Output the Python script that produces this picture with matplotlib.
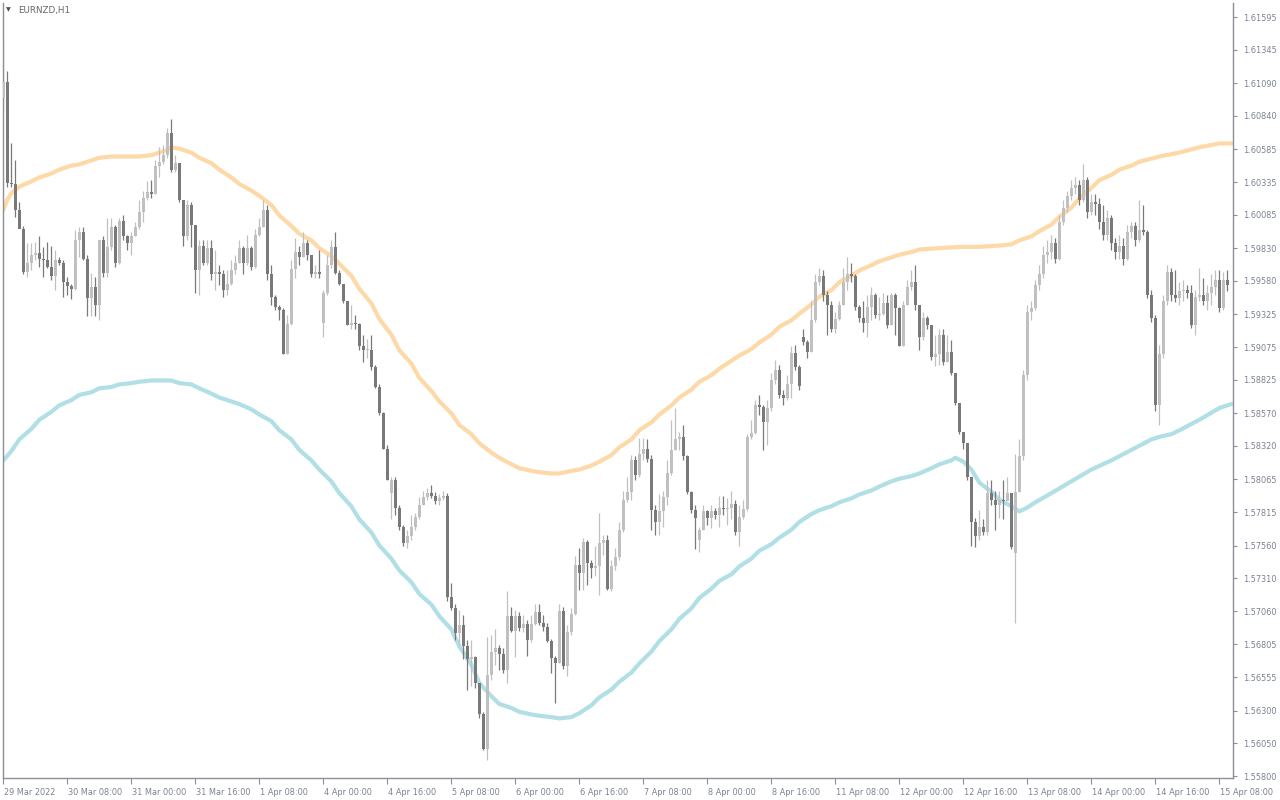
import matplotlib
matplotlib.use("Agg")
import matplotlib.pyplot as plt
import matplotlib.transforms as mtransforms

# EURNZD H1 candles, 29 Mar 16:00 .. 15 Apr 10:00
closes = [
    1.6110, 1.6033, 1.6032, 1.6012, 1.5998, 1.5965, 1.5972, 1.5978, 1.5979, 1.5975,
    1.5974, 1.5969, 1.5962, 1.5974, 1.5972, 1.5957, 1.5954, 1.5952, 1.5989, 1.5995,
    1.5975, 1.5945, 1.5953, 1.5940, 1.5989, 1.5964, 1.5984, 1.5999, 1.5972, 1.6004,
    1.5992, 1.5987, 1.5992, 1.5999, 1.6011, 1.6021, 1.6026, 1.6024, 1.6046, 1.6049,
    1.6054, 1.6071, 1.6043, 1.6048, 1.6020, 1.5992, 1.6016, 1.6001, 1.5966, 1.5985,
    1.5972, 1.5983, 1.5963, 1.5965, 1.5963, 1.5951, 1.5956, 1.5966, 1.5972, 1.5983,
    1.5972, 1.5983, 1.5969, 1.5993, 1.5999, 1.6012, 1.5963, 1.5946, 1.5938, 1.5936,
    1.5902, 1.5925, 1.5967, 1.5980, 1.5976, 1.5987, 1.5978, 1.5963, 1.5965, 1.5963,
    1.5949, 1.5970, 1.5984, 1.5964, 1.5956, 1.5943, 1.5924, 1.5926, 1.5925, 1.5908,
    1.5905, 1.5905, 1.5892, 1.5877, 1.5857, 1.5830, 1.5806, 1.5806, 1.5785, 1.5770,
    1.5758, 1.5763, 1.5770, 1.5778, 1.5787, 1.5793, 1.5796, 1.5794, 1.5790, 1.5792,
    1.5794, 1.5717, 1.5708, 1.5689, 1.5695, 1.5679, 1.5669, 1.5671, 1.5651, 1.5627,
    1.5601, 1.5657, 1.5675, 1.5678, 1.5673, 1.5661, 1.5702, 1.5691, 1.5702, 1.5693,
    1.5696, 1.5684, 1.5696, 1.5705, 1.5697, 1.5694, 1.5683, 1.5670, 1.5666, 1.5706,
    1.5664, 1.5690, 1.5704, 1.5741, 1.5735, 1.5759, 1.5743, 1.5739, 1.5740, 1.5758,
    1.5760, 1.5723, 1.5740, 1.5747, 1.5768, 1.5791, 1.5797, 1.5821, 1.5810, 1.5826,
    1.5830, 1.5822, 1.5783, 1.5774, 1.5782, 1.5793, 1.5811, 1.5829, 1.5837, 1.5839,
    1.5824, 1.5797, 1.5783, 1.5777, 1.5768, 1.5782, 1.5777, 1.5782, 1.5779, 1.5785,
    1.5784, 1.5785, 1.5788, 1.5766, 1.5778, 1.5784, 1.5839, 1.5842, 1.5863, 1.5862,
    1.5850, 1.5861, 1.5882, 1.5890, 1.5871, 1.5869, 1.5879, 1.5903, 1.5892, 1.5878,
    1.5911, 1.5904, 1.5928, 1.5957, 1.5962, 1.5947, 1.5940, 1.5921, 1.5929, 1.5940,
    1.5957, 1.5963, 1.5962, 1.5938, 1.5930, 1.5926, 1.5938, 1.5947, 1.5932, 1.5933,
    1.5941, 1.5924, 1.5947, 1.5937, 1.5908, 1.5940, 1.5953, 1.5957, 1.5940, 1.5915,
    1.5930, 1.5924, 1.5900, 1.5902, 1.5917, 1.5896, 1.5904, 1.5888, 1.5865, 1.5843,
    1.5834, 1.5808, 1.5774, 1.5763, 1.5770, 1.5766, 1.5796, 1.5791, 1.5787, 1.5791,
    1.5790, 1.5796, 1.5755, 1.5797, 1.5824, 1.5886, 1.5934, 1.5937, 1.5955, 1.5963,
    1.5978, 1.5980, 1.5987, 1.5975, 1.6003, 1.6014, 1.6023, 1.6029, 1.6031, 1.6020,
    1.6035, 1.6011, 1.6018, 1.6017, 1.6003, 1.5993, 1.6006, 1.5987, 1.5980, 1.5985,
    1.5975, 1.5995, 1.6000, 1.5989, 1.5997, 1.5995, 1.5947, 1.5930, 1.5863, 1.5902,
    1.5943, 1.5965, 1.5947, 1.5945, 1.5950, 1.5951, 1.5949, 1.5924, 1.5946, 1.5947,
    1.5943, 1.5949, 1.5953, 1.5959, 1.5937, 1.5959, 1.5955,
]
highs = [
    1.6142, 1.6118, 1.6063, 1.6050, 1.6018, 1.6000, 1.5987, 1.5987, 1.5988, 1.5992,
    1.5984, 1.5988, 1.5985, 1.5982, 1.5976, 1.5974, 1.5961, 1.5956, 1.5997, 1.5999,
    1.5999, 1.5978, 1.5964, 1.5961, 1.5989, 1.5992, 1.6006, 1.6006, 1.6001, 1.6006,
    1.6008, 1.5993, 1.5995, 1.6003, 1.6020, 1.6027, 1.6034, 1.6035, 1.6050, 1.6060,
    1.6062, 1.6075, 1.6082, 1.6054, 1.6048, 1.6020, 1.6020, 1.6018, 1.6001, 1.5989,
    1.5989, 1.5989, 1.5989, 1.5982, 1.5970, 1.5966, 1.5966, 1.5974, 1.5978, 1.5989,
    1.5985, 1.5993, 1.5985, 1.5998, 1.6006, 1.6020, 1.6016, 1.5970, 1.5947, 1.5940,
    1.5937, 1.5932, 1.5974, 1.5991, 1.5985, 1.5995, 1.5989, 1.5978, 1.5970, 1.5982,
    1.5951, 1.5978, 1.5989, 1.5995, 1.5966, 1.5956, 1.5943, 1.5940, 1.5932, 1.5926,
    1.5917, 1.5914, 1.5917, 1.5894, 1.5879, 1.5858, 1.5833, 1.5808, 1.5808, 1.5787,
    1.5772, 1.5768, 1.5779, 1.5781, 1.5793, 1.5798, 1.5800, 1.5802, 1.5797, 1.5795,
    1.5798, 1.5796, 1.5727, 1.5711, 1.5707, 1.5703, 1.5684, 1.5684, 1.5672, 1.5651,
    1.5629, 1.5686, 1.5688, 1.5692, 1.5680, 1.5678, 1.5721, 1.5709, 1.5707, 1.5705,
    1.5703, 1.5699, 1.5703, 1.5711, 1.5711, 1.5703, 1.5697, 1.5685, 1.5672, 1.5711,
    1.5709, 1.5695, 1.5708, 1.5748, 1.5754, 1.5762, 1.5760, 1.5745, 1.5756, 1.5781,
    1.5764, 1.5764, 1.5745, 1.5754, 1.5774, 1.5798, 1.5808, 1.5825, 1.5824, 1.5838,
    1.5838, 1.5837, 1.5825, 1.5787, 1.5795, 1.5798, 1.5821, 1.5852, 1.5861, 1.5843,
    1.5848, 1.5825, 1.5798, 1.5787, 1.5770, 1.5787, 1.5783, 1.5787, 1.5785, 1.5794,
    1.5794, 1.5792, 1.5798, 1.5791, 1.5787, 1.5791, 1.5841, 1.5852, 1.5867, 1.5871,
    1.5863, 1.5867, 1.5888, 1.5898, 1.5894, 1.5875, 1.5886, 1.5908, 1.5909, 1.5894,
    1.5921, 1.5913, 1.5943, 1.5963, 1.5968, 1.5966, 1.5950, 1.5943, 1.5934, 1.5943,
    1.5968, 1.5976, 1.5972, 1.5963, 1.5940, 1.5943, 1.5947, 1.5953, 1.5949, 1.5946,
    1.5949, 1.5947, 1.5949, 1.5949, 1.5938, 1.5943, 1.5959, 1.5966, 1.5970, 1.5940,
    1.5934, 1.5931, 1.5924, 1.5917, 1.5921, 1.5921, 1.5917, 1.5913, 1.5888, 1.5865,
    1.5843, 1.5834, 1.5808, 1.5777, 1.5783, 1.5776, 1.5806, 1.5806, 1.5798, 1.5798,
    1.5806, 1.5808, 1.5796, 1.5826, 1.5837, 1.5890, 1.5940, 1.5943, 1.5959, 1.5970,
    1.5985, 1.5989, 1.5993, 1.5991, 1.6008, 1.6020, 1.6027, 1.6035, 1.6037, 1.6035,
    1.6047, 1.6037, 1.6024, 1.6024, 1.6021, 1.6016, 1.6012, 1.6008, 1.5991, 1.5993,
    1.5991, 1.6001, 1.6003, 1.6003, 1.6020, 1.6016, 1.5997, 1.5951, 1.5932, 1.5909,
    1.5947, 1.5970, 1.5968, 1.5966, 1.5957, 1.5959, 1.5955, 1.5955, 1.5951, 1.5968,
    1.5960, 1.5955, 1.5963, 1.5966, 1.5966, 1.5965, 1.5966,
]
lows = [
    1.6087, 1.6030, 1.6030, 1.6007, 1.5999, 1.5963, 1.5961, 1.5966, 1.5974, 1.5969,
    1.5961, 1.5968, 1.5959, 1.5951, 1.5970, 1.5946, 1.5947, 1.5944, 1.5951, 1.5976,
    1.5974, 1.5931, 1.5931, 1.5931, 1.5928, 1.5961, 1.5961, 1.5982, 1.5969, 1.5971,
    1.5989, 1.5982, 1.5978, 1.5992, 1.5998, 1.6003, 1.6020, 1.6021, 1.6024, 1.6037,
    1.6047, 1.6052, 1.6041, 1.6041, 1.6018, 1.5985, 1.5989, 1.5984, 1.5949, 1.5947,
    1.5970, 1.5970, 1.5959, 1.5951, 1.5955, 1.5946, 1.5947, 1.5955, 1.5963, 1.5972,
    1.5963, 1.5970, 1.5966, 1.5968, 1.5992, 1.5999, 1.5959, 1.5940, 1.5936, 1.5928,
    1.5902, 1.5902, 1.5924, 1.5960, 1.5970, 1.5976, 1.5974, 1.5961, 1.5960, 1.5960,
    1.5915, 1.5947, 1.5968, 1.5963, 1.5955, 1.5941, 1.5924, 1.5921, 1.5921, 1.5905,
    1.5896, 1.5899, 1.5890, 1.5876, 1.5856, 1.5830, 1.5806, 1.5776, 1.5779, 1.5768,
    1.5756, 1.5754, 1.5760, 1.5768, 1.5776, 1.5787, 1.5791, 1.5792, 1.5788, 1.5787,
    1.5791, 1.5714, 1.5707, 1.5684, 1.5680, 1.5669, 1.5646, 1.5649, 1.5647, 1.5624,
    1.5600, 1.5592, 1.5653, 1.5665, 1.5661, 1.5659, 1.5651, 1.5690, 1.5671, 1.5691,
    1.5690, 1.5672, 1.5682, 1.5695, 1.5695, 1.5691, 1.5682, 1.5659, 1.5636, 1.5666,
    1.5662, 1.5656, 1.5688, 1.5703, 1.5722, 1.5722, 1.5726, 1.5731, 1.5733, 1.5718,
    1.5749, 1.5722, 1.5721, 1.5737, 1.5745, 1.5766, 1.5789, 1.5791, 1.5806, 1.5808,
    1.5821, 1.5820, 1.5768, 1.5764, 1.5764, 1.5770, 1.5787, 1.5810, 1.5829, 1.5829,
    1.5821, 1.5795, 1.5781, 1.5753, 1.5751, 1.5768, 1.5772, 1.5769, 1.5776, 1.5770,
    1.5779, 1.5772, 1.5776, 1.5764, 1.5756, 1.5776, 1.5782, 1.5837, 1.5841, 1.5856,
    1.5829, 1.5833, 1.5859, 1.5879, 1.5869, 1.5863, 1.5867, 1.5869, 1.5890, 1.5875,
    1.5909, 1.5899, 1.5904, 1.5927, 1.5955, 1.5943, 1.5917, 1.5919, 1.5918, 1.5928,
    1.5940, 1.5951, 1.5957, 1.5936, 1.5927, 1.5919, 1.5915, 1.5928, 1.5930, 1.5928,
    1.5932, 1.5922, 1.5924, 1.5917, 1.5908, 1.5908, 1.5940, 1.5951, 1.5936, 1.5905,
    1.5913, 1.5921, 1.5898, 1.5893, 1.5894, 1.5894, 1.5896, 1.5886, 1.5863, 1.5841,
    1.5830, 1.5806, 1.5756, 1.5755, 1.5760, 1.5764, 1.5764, 1.5787, 1.5768, 1.5777,
    1.5776, 1.5791, 1.5753, 1.5697, 1.5797, 1.5821, 1.5882, 1.5928, 1.5936, 1.5951,
    1.5960, 1.5972, 1.5975, 1.5972, 1.5974, 1.6001, 1.6011, 1.6020, 1.6024, 1.6016,
    1.6018, 1.6006, 1.6008, 1.6008, 1.5998, 1.5989, 1.5989, 1.5982, 1.5975, 1.5975,
    1.5970, 1.5974, 1.5991, 1.5985, 1.5988, 1.5993, 1.5945, 1.5927, 1.5859, 1.5848,
    1.5899, 1.5940, 1.5943, 1.5942, 1.5940, 1.5943, 1.5945, 1.5922, 1.5917, 1.5943,
    1.5940, 1.5936, 1.5940, 1.5947, 1.5934, 1.5936, 1.5950,
]
# each bar opens at the previous close, except where the chart shows a gap
first_open = 1.6098
gap_opens = {80: 1.5926, 97: 1.5796, 174: 1.5760, 200: 1.5915, 253: 1.5750}

# the two smooth indicator lines (bar index, price)
upper_idx = [0, 1, 2, 4, 7, 9, 12, 14, 17, 19, 22, 24, 27, 29, 34, 37, 39, 41, 42, 44,
             47, 49, 52, 54, 57, 59, 62, 64, 67, 69, 72, 74, 77, 79, 82, 84, 87, 89, 92, 94,
             97, 99, 102, 104, 107, 109, 112, 114, 117, 119, 122, 124, 127, 129, 132, 134,
             137, 139, 142, 144, 147, 149, 152, 154, 157, 159, 162, 164, 167, 169, 172, 174,
             177, 179, 182, 184, 187, 189, 192, 194, 197, 199, 202, 204, 207, 209, 212, 214,
             217, 219, 222, 224, 227, 229, 234, 239, 244, 249, 252, 254, 257, 259, 262, 264,
             267, 269, 272, 274, 277, 279, 282, 284, 289, 294, 299, 304, 307]
upper_val = [1.6012, 1.6020, 1.6025, 1.6030, 1.6034, 1.6037, 1.6040, 1.6043, 1.6046, 1.6047,
             1.6050, 1.6052, 1.6053, 1.6053, 1.6053, 1.6054, 1.6056, 1.6058, 1.6060, 1.6059,
             1.6056, 1.6052, 1.6048, 1.6043, 1.6037, 1.6032, 1.6027, 1.6023, 1.6016, 1.6008,
             1.6000, 1.5994, 1.5989, 1.5983, 1.5977, 1.5971, 1.5962, 1.5952, 1.5941, 1.5929,
             1.5917, 1.5905, 1.5895, 1.5884, 1.5874, 1.5866, 1.5857, 1.5848, 1.5841, 1.5834,
             1.5827, 1.5823, 1.5818, 1.5815, 1.5813, 1.5812, 1.5811, 1.5811, 1.5813, 1.5814,
             1.5817, 1.5820, 1.5825, 1.5831, 1.5837, 1.5844, 1.5850, 1.5856, 1.5863, 1.5869,
             1.5875, 1.5881, 1.5886, 1.5891, 1.5897, 1.5901, 1.5906, 1.5911, 1.5917, 1.5923,
             1.5928, 1.5933, 1.5940, 1.5946, 1.5951, 1.5957, 1.5962, 1.5966, 1.5970, 1.5973,
             1.5976, 1.5978, 1.5980, 1.5982, 1.5983, 1.5984, 1.5984, 1.5985, 1.5986, 1.5989,
             1.5992, 1.5996, 1.6001, 1.6007, 1.6014, 1.6021, 1.6029, 1.6035, 1.6039, 1.6043,
             1.6046, 1.6049, 1.6053, 1.6056, 1.6060, 1.6063, 1.6063]
lower_idx = [0, 2, 4, 7, 9, 12, 14, 17, 19, 22, 24, 27, 29, 32, 34, 37, 39, 42, 44, 47,
             49, 52, 54, 57, 59, 62, 64, 67, 69, 72, 74, 77, 79, 82, 84, 87, 89, 92, 94, 97,
             99, 102, 104, 107, 109, 112, 114, 117, 119, 122, 124, 127, 129, 132, 134, 137,
             139, 142, 144, 147, 149, 152, 154, 157, 159, 162, 164, 167, 169, 172, 174, 177,
             179, 182, 184, 187, 189, 192, 194, 197, 199, 202, 204, 207, 209, 212, 214, 217,
             219, 222, 224, 227, 229, 232, 234, 237, 238, 240, 242, 244, 247, 249, 252, 254,
             256, 258, 262, 267, 272, 277, 282, 287, 289, 292, 294, 299, 304, 307]
lower_val = [1.5821, 1.5828, 1.5837, 1.5845, 1.5852, 1.5858, 1.5863, 1.5867, 1.5871, 1.5873,
             1.5876, 1.5877, 1.5879, 1.5880, 1.5881, 1.5882, 1.5882, 1.5882, 1.5880, 1.5879,
             1.5876, 1.5872, 1.5869, 1.5866, 1.5864, 1.5860, 1.5856, 1.5851, 1.5844, 1.5837,
             1.5829, 1.5821, 1.5814, 1.5805, 1.5796, 1.5786, 1.5776, 1.5766, 1.5756, 1.5746,
             1.5737, 1.5728, 1.5719, 1.5711, 1.5702, 1.5692, 1.5679, 1.5665, 1.5651, 1.5641,
             1.5635, 1.5632, 1.5629, 1.5627, 1.5626, 1.5625, 1.5624, 1.5625, 1.5628, 1.5634,
             1.5640, 1.5646, 1.5652, 1.5659, 1.5666, 1.5675, 1.5683, 1.5692, 1.5700, 1.5708,
             1.5716, 1.5723, 1.5729, 1.5734, 1.5740, 1.5746, 1.5752, 1.5757, 1.5762, 1.5768,
             1.5774, 1.5780, 1.5783, 1.5786, 1.5789, 1.5792, 1.5795, 1.5798, 1.5801, 1.5805,
             1.5807, 1.5809, 1.5811, 1.5815, 1.5818, 1.5821, 1.5823, 1.5820, 1.5814, 1.5804,
             1.5797, 1.5791, 1.5786, 1.5782, 1.5785, 1.5789, 1.5796, 1.5805, 1.5814, 1.5821,
             1.5829, 1.5837, 1.5839, 1.5841, 1.5844, 1.5852, 1.5861, 1.5864]

price_ticks = [1.61595, 1.61345, 1.61090, 1.60840, 1.60585, 1.60335, 1.60085, 1.59830,
               1.59580, 1.59325, 1.59075, 1.58825, 1.58570, 1.58320, 1.58065, 1.57815,
               1.57560, 1.57310, 1.57060, 1.56805, 1.56555, 1.56300, 1.56050, 1.55800]
time_labels = ["29 Mar 2022", "30 Mar 08:00", "31 Mar 00:00", "31 Mar 16:00", "1 Apr 08:00",
               "4 Apr 00:00", "4 Apr 16:00", "5 Apr 08:00", "6 Apr 00:00", "6 Apr 16:00",
               "7 Apr 08:00", "8 Apr 00:00", "8 Apr 16:00", "11 Apr 08:00", "12 Apr 00:00",
               "12 Apr 16:00", "13 Apr 08:00", "14 Apr 00:00", "14 Apr 16:00", "15 Apr 08:00"]
label_step = 16  # one time label every 16 bars

n = len(closes)
opens = [first_open] + closes[:-1]
for k, v in gap_opens.items():
    opens[k] = v

bull_col = "#c0c0c0"
bear_col = "#797979"
axis_col = "#8e8e98"
text_col = "#7a8290"

fig = plt.figure(figsize=(12.8, 8), dpi=100)
ax = fig.add_axes([2.5 / 1280, 22 / 800, 1230.5 / 1280, 775 / 800])

ax.plot(upper_idx, upper_val, color="#fed9a8", lw=3.0, zorder=1,
        solid_capstyle="round", solid_joinstyle="round")
ax.plot(lower_idx, lower_val, color="#b0dfe5", lw=3.0, zorder=1,
        solid_capstyle="round", solid_joinstyle="round")

xs = list(range(n))
cols = [bull_col if c >= o else bear_col for o, c in zip(opens, closes)]
ax.vlines(xs, lows, highs, colors=cols, lw=0.9, zorder=2)
bottoms = [min(o, c) for o, c in zip(opens, closes)]
heights = [max(abs(c - o), 0.00007) for o, c in zip(opens, closes)]
ax.bar(xs, heights, bottom=bottoms, width=0.75, color=cols, linewidth=0, zorder=3)

ax.set_xlim(-0.2, 307.4)
ax.set_ylim(1.55785, 1.61702)

ax.yaxis.tick_right()
ax.set_yticks(price_ticks)
ax.set_yticklabels([f"{v:.5f}" for v in price_ticks])
ax.tick_params(axis="y", length=3, width=0.8, color=axis_col, labelsize=5.9,
               labelcolor=text_col, pad=4)

ax.set_xticks([i * label_step for i in range(len(time_labels))])
ax.set_xticklabels(time_labels)
ax.tick_params(axis="x", length=4, width=0.8, color=axis_col, labelsize=5.9,
               labelcolor=text_col, pad=3)
shift = mtransforms.ScaledTranslation(1 / 100, 0, fig.dpi_scale_trans)
for lab in ax.get_xticklabels():
    lab.set_horizontalalignment("left")
    lab.set_transform(lab.get_transform() + shift)

ax.spines["top"].set_visible(False)
for s in ["left", "right", "bottom"]:
    ax.spines[s].set_color(axis_col)
    ax.spines[s].set_linewidth(1.0)

fig.text(6 / 1280, 1 - 10 / 800, "\u25bc", fontsize=4.5, color="#505050", va="center")
fig.text(18 / 1280, 1 - 10 / 800, "EURNZD,H1", fontsize=6.3, color="#666666", va="center")

fig.savefig("out.png", dpi=100, facecolor="white")
